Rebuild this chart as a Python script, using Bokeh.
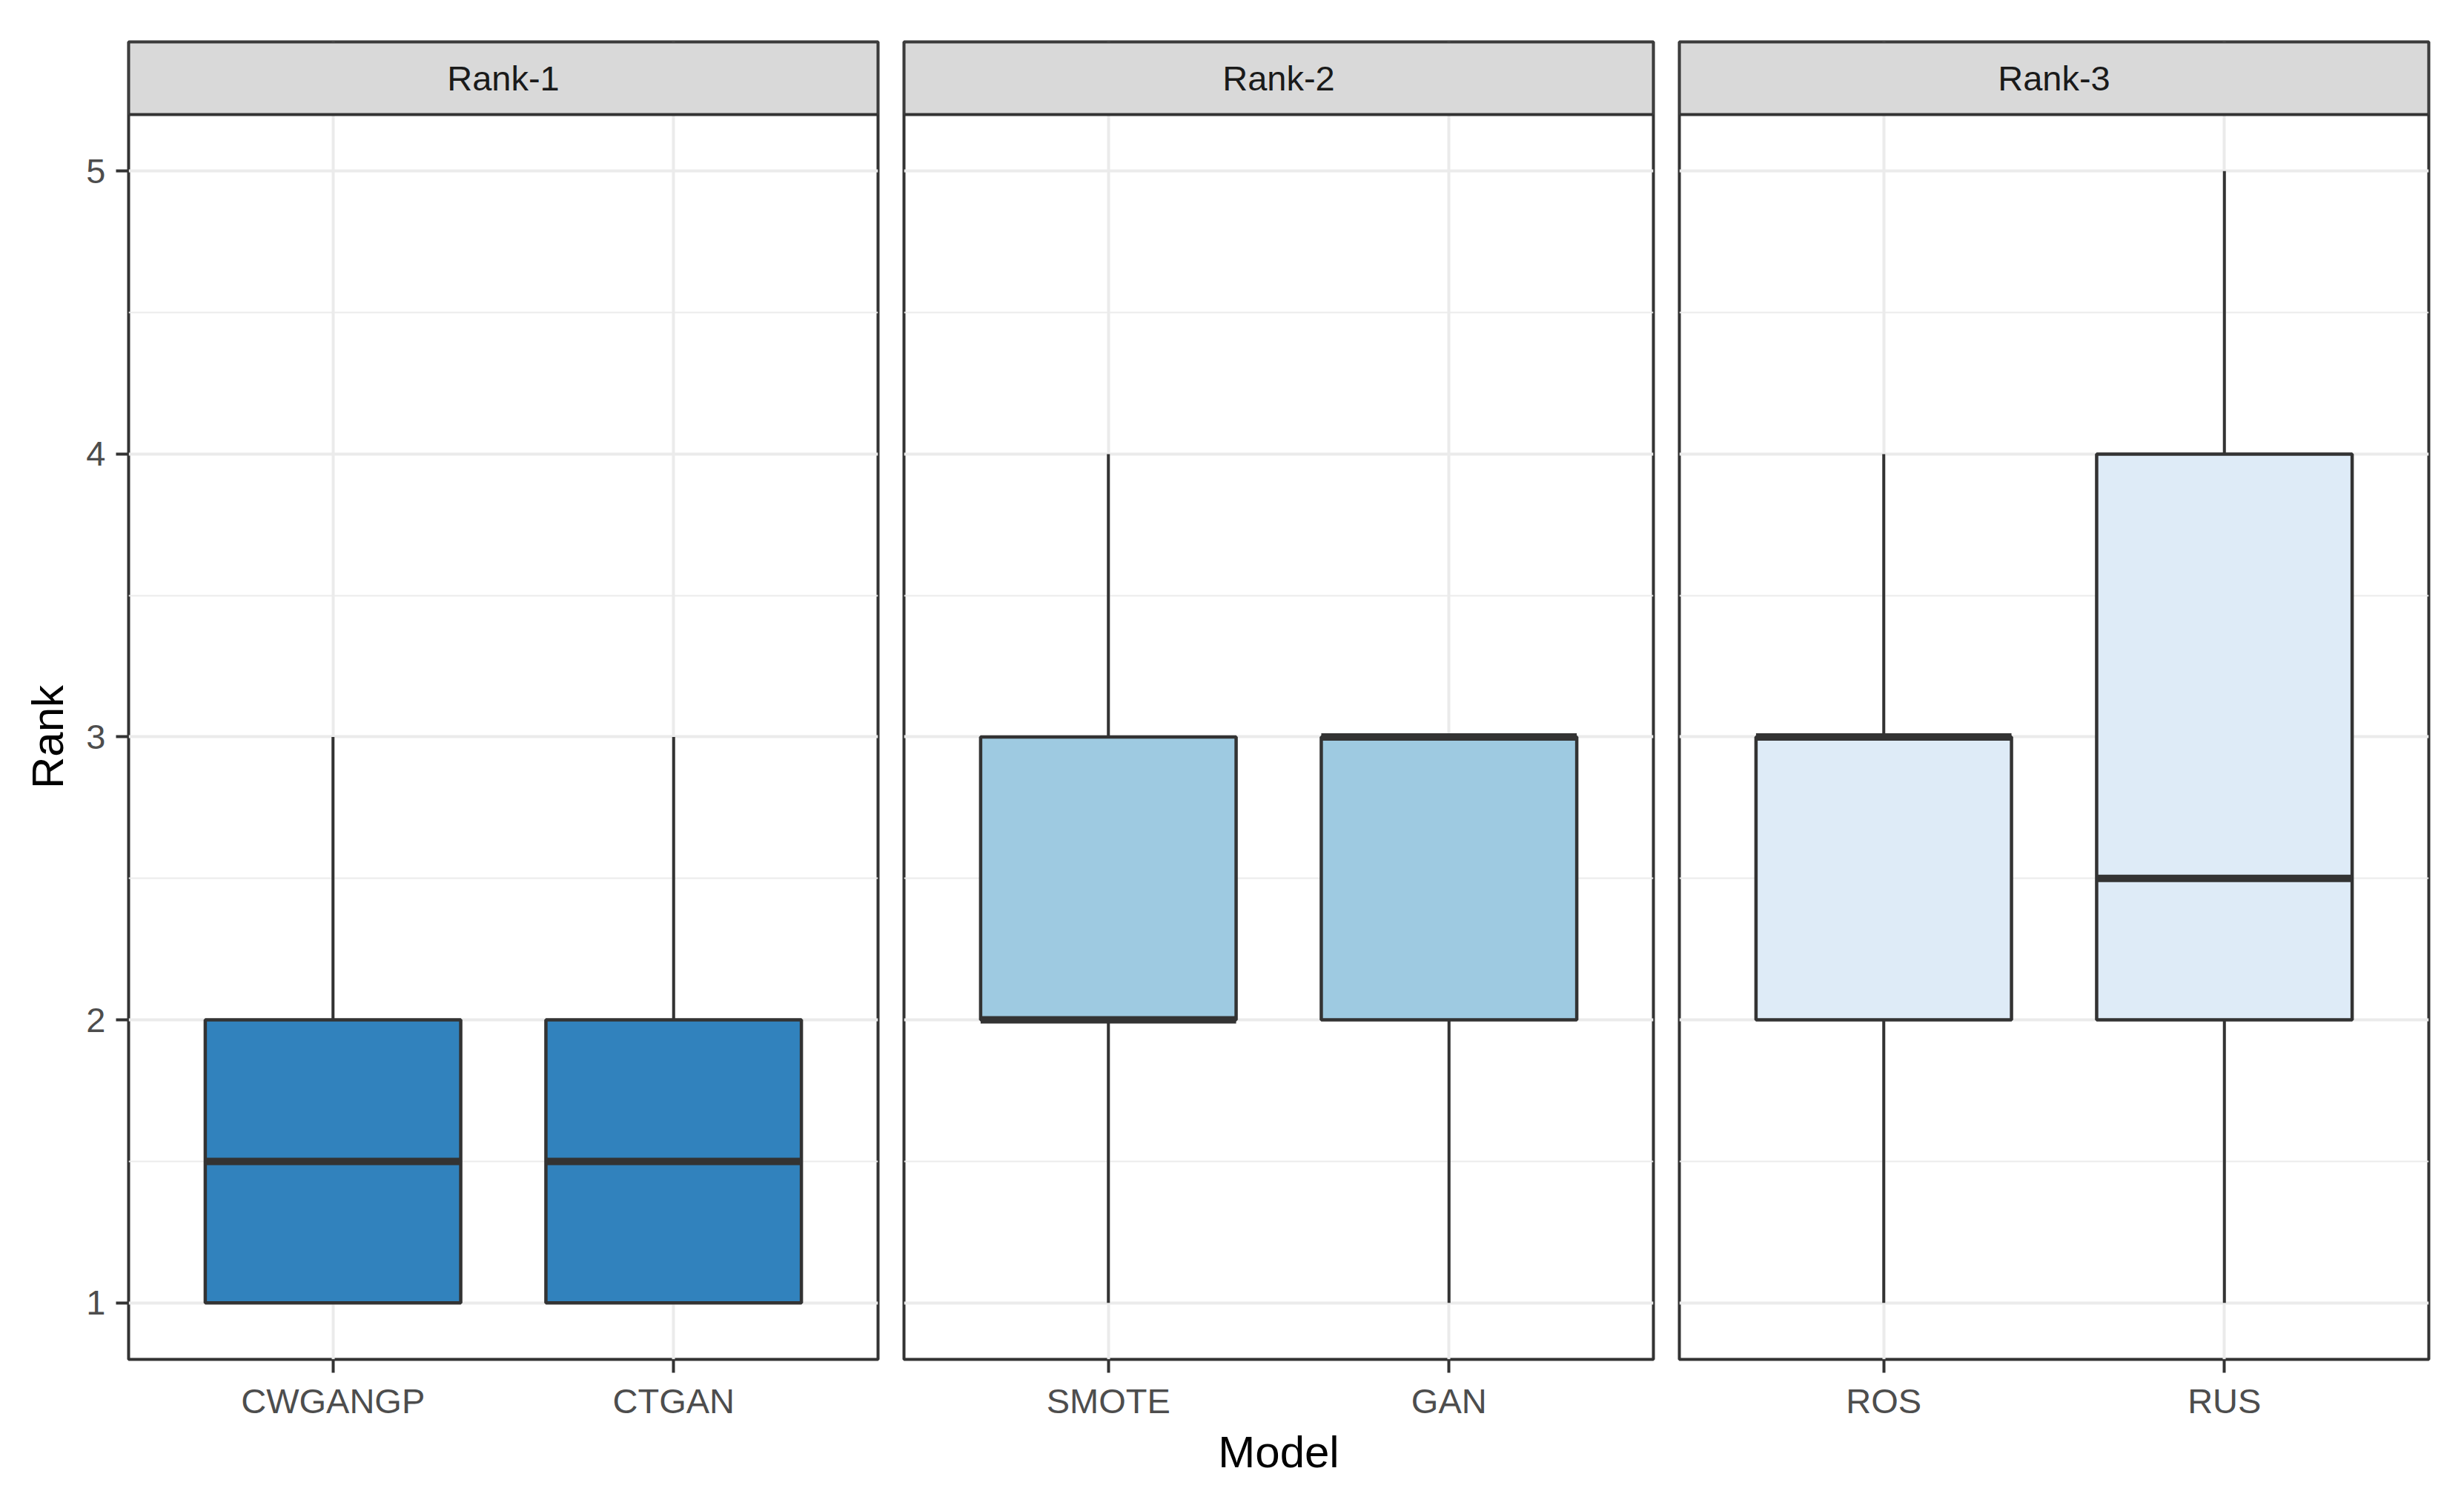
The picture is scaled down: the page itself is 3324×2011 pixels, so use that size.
import math
from bokeh.plotting import figure
from bokeh.models import Range1d, FixedTicker, BoxAnnotation, Label, ColumnDataSource
from bokeh.core.properties import value
from bokeh.layouts import row
from bokeh.embed import file_html
from bokeh.resources import INLINE

# ---- data ----
facets = ["Rank-1", "Rank-2", "Rank-3"]
models = [["CWGANGP", "CTGAN"], ["SMOTE", "GAN"], ["ROS", "RUS"]]
lower = [[1, 1], [1, 1], [1, 1]]
q1 = [[1, 1], [2, 2], [2, 2]]
median = [[1.5, 1.5], [2, 3], [3, 2.5]]
q3 = [[2, 2], [3, 3], [3, 4]]
upper = [[3, 3], [4, 3], [4, 5]]
fills = ["#3182BD", "#9ECAE1", "#DEEBF7"]
y_ticks = [1, 2, 3, 4, 5]
y_minor = [1.5, 2.5, 3.5, 4.5]
x_title = "Model"
y_title = "Rank"

FONT = "Liberation Sans"
DARK = "#333333"
GRID = "#EBEBEB"
BOX_W = 0.75
STRIP_H = 0.2567
Y0, Y1 = 0.8, 5.2

FRAME_W = 1011
FRAME_H = 1777
TOP = 56
BOTTOM = 155
TITLE_W = 110

# narrow column that holds the y-axis title, centred on the panel area
tf = figure(
    x_range=Range1d(0, TITLE_W), y_range=Range1d(Y0, Y1 + STRIP_H),
    frame_width=TITLE_W, frame_height=FRAME_H,
    output_backend="svg", toolbar_location=None,
    x_axis_location=None, y_axis_location=None,
    min_border_left=0, min_border_right=0,
    min_border_top=TOP, min_border_bottom=BOTTOM,
)
tf.outline_line_color = None
tf.xgrid.grid_line_color = None
tf.ygrid.grid_line_color = None
tf.background_fill_color = "white"
tf.border_fill_color = "white"
tf.text(x=[64], y=[(Y0 + Y1) / 2], text=[y_title], angle=math.pi / 2,
        text_align="center", text_baseline="middle",
        text_font=value(FONT), text_font_size="60px", text_color="black")

figs = [tf]
for i, facet in enumerate(facets):
    cats = models[i]
    xs = [j + 1 for j in range(len(cats))]
    src = ColumnDataSource(dict(
        x=xs, lo=lower[i], q1=q1[i], med=median[i], q3=q3[i], hi=upper[i],
        left=[x - BOX_W / 2 for x in xs], right=[x + BOX_W / 2 for x in xs],
    ))
    first = i == 0
    p = figure(
        x_range=Range1d(0.4, len(cats) + 0.6),
        y_range=Range1d(Y0, Y1 + STRIP_H),
        frame_width=FRAME_W, frame_height=FRAME_H,
        output_backend="svg", toolbar_location=None,
        y_axis_location="left" if first else None,
        min_border_left=173 - TITLE_W if first else 18,
        min_border_right=12 if i == 2 else 17,
        min_border_top=TOP, min_border_bottom=BOTTOM,
    )
    p.background_fill_color = "white"
    p.border_fill_color = "white"
    p.outline_line_color = DARK
    p.outline_line_width = 4

    # grids
    p.xgrid.ticker = FixedTicker(ticks=xs)
    p.xgrid.grid_line_color = GRID
    p.xgrid.grid_line_width = 4
    p.ygrid.ticker = FixedTicker(ticks=y_ticks, minor_ticks=y_minor)
    p.ygrid.grid_line_color = GRID
    p.ygrid.grid_line_width = 4
    p.ygrid.minor_grid_line_color = GRID
    p.ygrid.minor_grid_line_width = 2

    # x axis
    xa = p.xaxis[0]
    xa.ticker = FixedTicker(ticks=xs)
    xa.major_label_overrides = {x: c for x, c in zip(xs, cats)}
    xa.axis_line_color = None
    xa.major_tick_in = 0
    xa.major_tick_out = 18
    xa.major_tick_line_color = DARK
    xa.major_tick_line_width = 4
    xa.minor_tick_line_color = None
    xa.major_label_standoff = 11
    xa.major_label_text_font = FONT
    xa.major_label_text_font_size = "47px"
    xa.major_label_text_color = "#4D4D4D"
    xa.axis_label = x_title if i == 1 else None
    xa.axis_label_text_font = FONT
    xa.axis_label_text_font_size = "60px"
    xa.axis_label_text_font_style = "normal"
    xa.axis_label_text_color = "black"
    xa.axis_label_standoff = 6

    if first:
        ya = p.yaxis[0]
        ya.ticker = FixedTicker(ticks=y_ticks)
        ya.axis_line_color = None
        ya.major_tick_in = 0
        ya.major_tick_out = 17
        ya.major_tick_line_color = DARK
        ya.major_tick_line_width = 4
        ya.minor_tick_line_color = None
        ya.major_label_standoff = 14
        ya.major_label_text_font = FONT
        ya.major_label_text_font_size = "47px"
        ya.major_label_text_color = "#4D4D4D"

    # whiskers
    p.segment(x0="x", y0="q3", x1="x", y1="hi", source=src, line_color=DARK, line_width=4)
    p.segment(x0="x", y0="lo", x1="x", y1="q1", source=src, line_color=DARK, line_width=4)
    # boxes
    p.vbar(x="x", width=BOX_W, bottom="q1", top="q3", source=src,
           fill_color=fills[i], line_color=DARK, line_width=4.5)
    # medians
    p.segment(x0="left", y0="med", x1="right", y1="med", source=src,
              line_color=DARK, line_width=10)

    # facet strip
    strip = BoxAnnotation(bottom=Y1, fill_color="#D9D9D9", fill_alpha=1.0,
                          line_color=DARK, line_width=4, line_alpha=1.0)
    p.add_layout(strip)
    p.add_layout(Label(x=(len(cats) + 1) / 2, y=Y1 + STRIP_H / 2, text=facet,
                       text_align="center", text_baseline="middle",
                       text_font=FONT, text_font_size="47px", text_color="#1A1A1A"))
    figs.append(p)

layout = row(*figs)
open("out.html", "w").write(file_html(layout, INLINE))
